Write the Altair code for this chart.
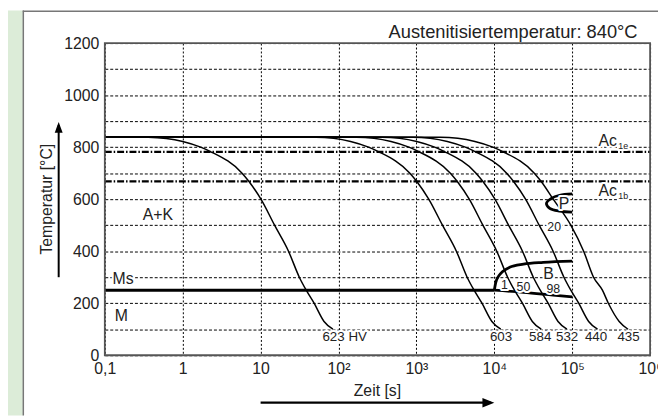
import altair as alt
import pandas as pd

FONT = "Liberation Sans"

# ---- cooling curves (time in s, temperature in degC) ----
T_LEVELS = [840, 838, 822, 800, 783, 700, 668, 600, 500, 400, 300, 250, 200, 130, 100]
t_623 = [0.1, 0.36, 1.0, 1.7, 2.27, 5.78, 7.09, 10.1, 15.1, 22.8, 31.4, 38.5, 48.6, 65.2, 84.7]
t_603 = [0.1, 51.6, 143, 243, 324, 825, 1012, 1440, 2160, 3260, 4480, 5500, 6940, 9310, 12100]
t_584 = [0.1, 170, 472, 802, 1070, 2730, 3350, 4770, 7130, 10760, 14820, 18170, 22940, 30770, 39980]
t_532 = [0.1, 363, 1009, 1715, 2290, 5830, 7150, 10190, 15240, 23000, 31680, 38850, 49040, 65790, 85460]
t_440 = [0.1, 897, 2493, 4240, 5660, 14410, 17680, 25180, 37640, 56840, 78280, 95980, 121160, 162540, 211160]
t_435 = [0.1, 2030, 5640, 9590, 12810, 32620, 40020, 57000, 95900, 140300, 187900, 244300, 291000, 401000, 521000]
curve_names = ["623", "603", "584", "532", "440", "435"]
curve_times = [t_623, t_603, t_584, t_532, t_440, t_435]

# hardness labels at curve ends
hv_labels = ["623 HV", "603", "584", "532", "440", "435"]
hv_t = [120, 12190, 38820, 86100, 202100, 529200]
hv_T = [69.5, 69.5, 69.5, 69.5, 69.5, 69.5]

# region labels
region_labels = ["A+K", "Ms", "M", "B", "P"]
region_t = [0.48, 0.172, 0.163, 49500, 78700]
region_T = [540, 292, 150, 311, 580]

# percentage labels
pct_labels = ["1", "50", "98", "20"]
pct_t = [13510, 23660, 57300, 58700]
pct_T = [270, 264, 256, 493]

# Ac1e / Ac1b lines and labels
ac_T = [782, 668]
ac_text = ["Ac", "Ac"]
ac_text_t = [217000, 217000]
ac_text_T = [805, 611]
ac_sub = ["1e", "1b"]
ac_sub_t = [389600, 389600]
ac_sub_T = [792.5, 599]

# Ms line and bainite / pearlite regions
ms_T = [250]
ms_t = [0.1]
ms_t2 = [10000]
b_start_t = [10000, 10450, 11400, 12820, 15720, 23660, 42400, 100000]
b_start_T = [250, 280, 305, 322, 338, 350, 357, 362]
b_end_t = [10000, 23700, 56800, 100000]
b_end_T = [250, 242, 231, 224]
p_t = [100000, 69000, 54000, 46700, 51500, 69000, 100000]
p_T = [620, 615, 603, 584, 565, 554, 550]

x_ticks = [0.1, 1, 10, 100, 1000, 10000, 100000, 1000000]
y_ticks = [0, 100, 200, 300, 400, 500, 600, 700, 800, 900, 1000, 1100, 1200]

# ---------------------------------------------------------------------------
XS = alt.Scale(type="log", domain=[0.1, 1e6], nice=False)
YS = alt.Scale(domain=[0, 1200], nice=False, zero=False)

x_axis = alt.Axis(
    values=x_ticks, title=None, grid=True, gridDash=[2, 2], gridColor="#000",
    gridWidth=1, domain=False, ticks=True, tickSize=0, labelPadding=5,
    labelFont=FONT, labelFontSize=16, labelColor="#222", labelFlush=False,
    labelOverlap=False, labelBound=False,
    labelExpr=("datum.value < 0.5 ? '0,1' : datum.value < 5 ? '1' : datum.value < 50 ? '10' : "
               "datum.value < 500 ? '10\u00b2' : datum.value < 5000 ? '10\u00b3' : "
               "datum.value < 50000 ? '10\u2074' : datum.value < 500000 ? '10\u2075' : '10\u2076'"),
)
y_axis = alt.Axis(
    values=y_ticks, title=None, grid=True, gridDash=[3, 2], gridColor="#000",
    gridWidth=1, domain=False, ticks=True, tickSize=0, labelPadding=6,
    labelFont=FONT, labelFontSize=16, labelColor="#222", labelFlush=False,
    labelOverlap=False,
    labelExpr="datum.value % 200 == 0 ? '' + datum.value : ''",
)


def X(f="t"):
    return alt.X(f"{f}:Q", scale=XS, axis=x_axis)


def Y(f="T"):
    return alt.Y(f"{f}:Q", scale=YS, axis=y_axis)


rows = []
for name, ts in zip(curve_names, curve_times):
    for i, (t, T) in enumerate(zip(ts, T_LEVELS)):
        rows.append({"curve": name, "i": i, "t": t, "T": T})
curves_df = pd.DataFrame(rows)

layers = []

# background decoration: green strip and panel border
layers.append(alt.Chart(pd.DataFrame({"a": [0]})).mark_rect(color="#dcecd8").encode(
    x=alt.value(-98), x2=alt.value(-83), y=alt.value(-33), y2=alt.value(377)))
layers.append(alt.Chart(pd.DataFrame({"a": [0]})).mark_rule(color="#777", strokeWidth=1.5).encode(
    x=alt.value(-82.5), y=alt.value(-33), y2=alt.value(377)))
layers.append(alt.Chart(pd.DataFrame({"a": [0]})).mark_rule(color="#777", strokeWidth=1.5).encode(
    x=alt.value(-83), x2=alt.value(560), y=alt.value(-32.3)))

# Ac lines (dash-dot)
ac_df = pd.DataFrame({"T": ac_T, "t": [0.1, 0.1], "t2": [1e6, 1e6]})
layers.append(alt.Chart(ac_df).mark_rule(color="#000", strokeWidth=2.3,
                                          strokeDash=[7, 2, 1.5, 2]).encode(
    x=X(), x2="t2:Q", y=Y()))

# cooling curves
layers.append(alt.Chart(curves_df).mark_line(color="#000", strokeWidth=1.5,
                                              interpolate="monotone").encode(
    x=X(), y=Y(), detail="curve:N", order=alt.Order("i:Q")))

# Ms line
ms_df = pd.DataFrame({"t": ms_t, "t2": ms_t2, "T": ms_T})
layers.append(alt.Chart(ms_df).mark_rule(color="#000", strokeWidth=3).encode(
    x=X(), x2="t2:Q", y=Y()))

# bainite start / end
bs_df = pd.DataFrame({"t": b_start_t, "T": b_start_T, "i": list(range(len(b_start_t)))})
layers.append(alt.Chart(bs_df).mark_line(color="#000", strokeWidth=2.8,
                                          interpolate="monotone").encode(
    x=X(), y=Y(), order=alt.Order("i:Q")))
be_df = pd.DataFrame({"t": b_end_t, "T": b_end_T, "i": list(range(len(b_end_t)))})
layers.append(alt.Chart(be_df).mark_line(color="#000", strokeWidth=2.8,
                                          interpolate="monotone").encode(
    x=X(), y=Y(), order=alt.Order("i:Q")))
# pearlite nose
p_df = pd.DataFrame({"t": p_t, "T": p_T, "i": list(range(len(p_t)))})
layers.append(alt.Chart(p_df).mark_line(color="#000", strokeWidth=2.8,
                                         interpolate="catmull-rom").encode(
    x=X(), y=Y(), order=alt.Order("i:Q")))

# plot frame
layers.append(alt.Chart(pd.DataFrame({"a": [0]})).mark_rect(
    fillOpacity=0, stroke="#555", strokeWidth=1.8).encode(
    x=alt.value(0), x2=alt.value(552), y=alt.value(0), y2=alt.value(316)))

# labels (centered) with white halo
lab_df = pd.DataFrame({
    "label": hv_labels + region_labels + pct_labels,
    "t": hv_t + region_t + pct_t,
    "T": hv_T + region_T + pct_T,
    "fs": [13.5] * len(hv_labels) + [16] * len(region_labels) + [12.5] * len(pct_labels),
})
for halo in (True, False):
    kw = dict(stroke="white", strokeWidth=4, strokeJoin="round", color="white") if halo else dict(color="#222")
    layers.append(alt.Chart(lab_df).mark_text(font=FONT, align="center", baseline="middle", **kw).encode(
        x=X(), y=Y(), text="label:N", size=alt.Size("fs:Q", scale=None, legend=None)))

# Ac labels
acl_df = pd.DataFrame({"label": ac_text + ac_sub, "t": ac_text_t + ac_sub_t,
                       "T": ac_text_T + ac_sub_T, "fs": [16, 16, 9, 9]})
for halo in (True, False):
    kw = dict(stroke="white", strokeWidth=4, strokeJoin="round", color="white") if halo else dict(color="#222")
    layers.append(alt.Chart(acl_df).mark_text(font=FONT, align="left", baseline="alphabetic", **kw).encode(
        x=X(), y=Y(), text="label:N", size=alt.Size("fs:Q", scale=None, legend=None)))

# title
layers.append(alt.Chart(pd.DataFrame({"label": ["Austenitisiertemperatur: 840\u00b0C"]})).mark_text(
    font=FONT, fontSize=18.5, align="right", baseline="alphabetic", color="#222").encode(
    x=alt.value(539.3), y=alt.value(-5), text="label:N"))

# axis titles with arrows
layers.append(alt.Chart(pd.DataFrame({"label": ["Temperatur [\u00b0C]"], "T": [600]})).mark_text(
    font=FONT, fontSize=16, align="center", baseline="middle", angle=270, color="#222").encode(
    x=alt.value(-58.5), y=Y(), text="label:N"))
layers.append(alt.Chart(pd.DataFrame({"label": ["Zeit [s]"], "t": [316]})).mark_text(
    font=FONT, fontSize=16, align="center", baseline="middle", color="#222").encode(
    x=X(), y=alt.value(352.3), text="label:N"))

ya_df = pd.DataFrame({"T": [300], "T2": [885]})
layers.append(alt.Chart(ya_df).mark_rule(color="#000", strokeWidth=2).encode(
    x=alt.value(-46.7), y=Y(), y2="T2:Q"))
layers.append(alt.Chart(pd.DataFrame({"T": [897]})).mark_point(
    shape="M0,-1L0.73,1L-0.73,1Z", size=121, filled=True, opacity=1, color="#000", yOffset=5.5).encode(
    x=alt.value(-46.7), y=Y()))

xa_df = pd.DataFrame({"t": [10], "t2": [9000]})
layers.append(alt.Chart(xa_df).mark_rule(color="#000", strokeWidth=2.2).encode(
    x=X(), x2="t2:Q", y=alt.value(364)))
layers.append(alt.Chart(pd.DataFrame({"t": [10000]})).mark_point(
    shape="M1,0L-1,-0.8L-1,0.8Z", size=144, filled=True, opacity=1, color="#000", xOffset=-6).encode(
    x=X(), y=alt.value(364)))

chart = alt.layer(*layers).properties(
    width=552, height=316,
    autosize=alt.AutoSizeParams(type="none"),
    padding={"left": 98, "top": 33, "right": 8, "bottom": 61},
    background="white",
).configure_view(strokeWidth=0)

chart.save("out.html", embed_options={"renderer": "svg", "actions": False})
